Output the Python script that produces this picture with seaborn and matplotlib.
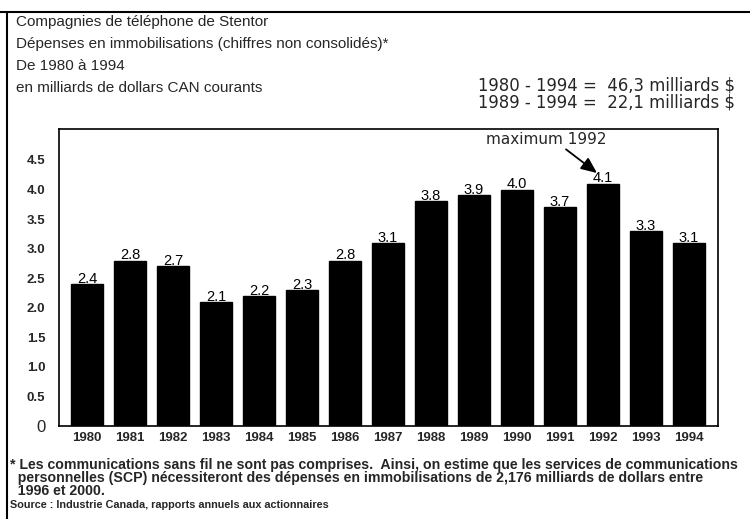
import matplotlib
matplotlib.use('Agg')
import matplotlib.pyplot as plt
import seaborn as sns
import pandas as pd
from matplotlib.lines import Line2D

years = [str(y) for y in range(1980, 1995)]
values = [2.4, 2.8, 2.7, 2.1, 2.2, 2.3, 2.8, 3.1, 3.8, 3.9, 4.0, 3.7, 4.1, 3.3, 3.1]
ytick_vals = [0, 0.5, 1.0, 1.5, 2.0, 2.5, 3.0, 3.5, 4.0, 4.5]
ytick_labels = ["0", "0.5", "1.0", "1.5", "2.0", "2.5", "3.0", "3.5", "4.0", "4.5"]

title_lines = [
    "Compagnies de téléphone de Stentor",
    "Dépenses en immobilisations (chiffres non consolidés)*",
    "De 1980 à 1994",
    "en milliards de dollars CAN courants",
]
totals = ["1980 - 1994 =  46,3 milliards $", "1989 - 1994 =  22,1 milliards $"]
footnote_lines = [
    "* Les communications sans fil ne sont pas comprises.  Ainsi, on estime que les services de communications",
    "  personnelles (SCP) nécessiteront des dépenses en immobilisations de 2,176 milliards de dollars entre",
    "  1996 et 2000.",
]
source = "Source : Industrie Canada, rapports annuels aux actionnaires"

df = pd.DataFrame({"year": years, "value": values})

sns.set_theme(style="white")
plt.rcParams['font.family'] = ['Liberation Sans', 'DejaVu Sans']

fig = plt.figure(figsize=(7.5, 5.19), dpi=100)
ax = fig.add_axes([0.079, 0.179, 0.878, 0.572])

sns.barplot(data=df, x="year", y="value", color="black", width=0.75,
            saturation=1, ax=ax)
for p in ax.patches:
    p.set_edgecolor("black")

for i, v in enumerate(values):
    ax.text(i, v - 0.03, f"{v:.1f}", ha="center", va="bottom", fontsize=10.5, color="black")

ax.set_xlim(-0.65, 14.67)
ax.set_ylim(0, 5.02)
ax.set_yticks(ytick_vals)
ax.set_yticklabels(ytick_labels, fontsize=9.5, fontweight="bold")
ax.get_yticklabels()[0].set_fontsize(12)
ax.get_yticklabels()[0].set_fontweight("normal")
ax.tick_params(axis="y", direction="in", length=7, width=1.2, pad=10, color="black")
ax.tick_params(axis="x", length=0, pad=4)
for lbl in ax.get_xticklabels():
    lbl.set_fontsize(9.5)
    lbl.set_fontweight("bold")
ax.set_xlabel("")
ax.set_ylabel("")
for s in ax.spines.values():
    s.set_visible(True)
    s.set_color("black")
    s.set_linewidth(1.2)

# "maximum 1992" label with its arrow
ax.text(10.67, 4.84, "maximum 1992", ha="center", va="center", fontsize=11,
        family="DejaVu Sans")
ax.annotate("", xy=(11.86, 4.28), xytext=(11.14, 4.68),
            arrowprops=dict(arrowstyle="-|>,head_length=0.8,head_width=0.35",
                            color="black", lw=1.3, shrinkA=0, shrinkB=0))

# outer frame (top and left border of the scanned page)
fig.add_artist(Line2D([0, 1], [0.977, 0.977], color="black", lw=1.5))
fig.add_artist(Line2D([0.009, 0.009], [0, 0.977], color="black", lw=1.5))

for k, line in enumerate(title_lines):
    fig.text(0.021, 0.958 - k * 0.0425, line, fontsize=11, va="center", ha="left")
for k, line in enumerate(totals):
    fig.text(0.638, 0.836 - k * 0.034, line, fontsize=11.9, va="center", ha="left",
             family="DejaVu Sans")

for k, line in enumerate(footnote_lines):
    fig.text(0.013, 0.104 - k * 0.025, line, fontsize=10.2, fontweight="bold",
             va="center", ha="left")
fig.text(0.013, 0.027, source, fontsize=7.8, fontweight="bold", va="center", ha="left")

fig.savefig("out.png", dpi=100)
